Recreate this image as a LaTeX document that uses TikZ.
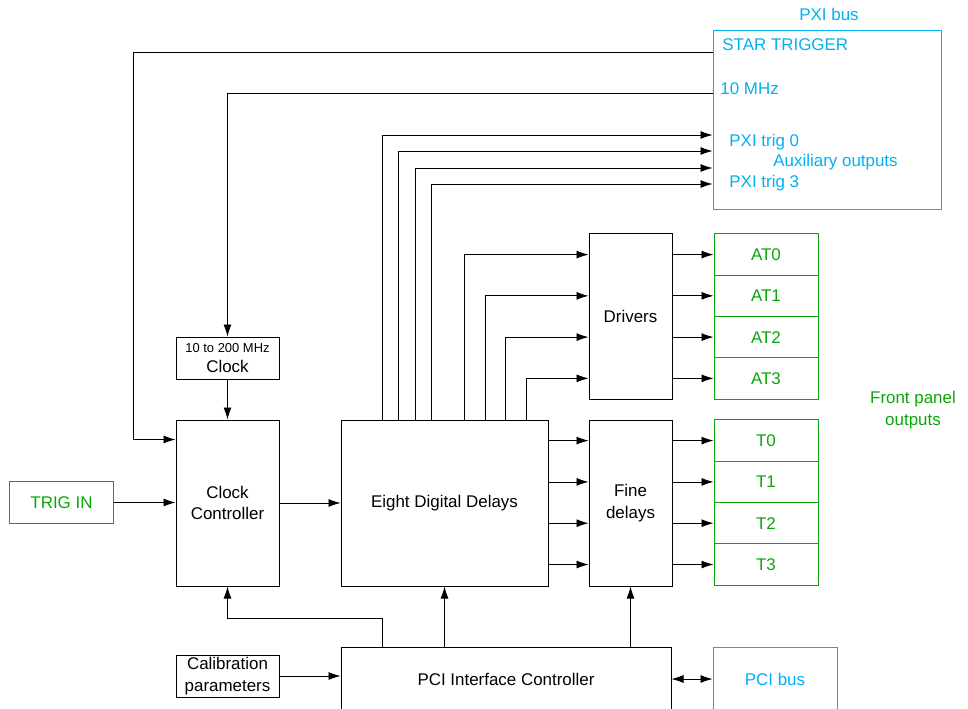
\documentclass[tikz,border=0pt]{standalone}
\usepackage{fontspec}
\setmainfont{Liberation Sans}
\usepackage{color}
\definecolor{myblue}{RGB}{0,176,240}
\definecolor{mygreen}{RGB}{10,165,10}
\usepackage{tikz}
\usetikzlibrary{calc,arrows,arrows.meta,positioning}
\tikzstyle{block}=[draw,line width=1bp,inner sep=0pt,align=center,font=\fontsize{17}{21.5}\selectfont]
\tikzstyle{outbox}=[block,draw=mygreen,text=mygreen,minimum width=104bp,minimum height=41.3bp]
\tikzstyle{busbox}=[block,draw=myblue,text=myblue]
\tikzstyle{buslabel}=[inner sep=0pt,anchor=base west,text=myblue,font=\fontsize{17}{20}\selectfont]

\begin{document}
\begin{tikzpicture}[x=1bp,y=-1bp,line width=0.8bp,>={Latex[length=12bp,width=8bp]}]
\useasboundingbox (0,0) rectangle (968,709);
\clip (0,0) rectangle (968,709);
% PXI bus
\draw (827,120) node [busbox, minimum width=228bp, minimum height=178bp] (pxi) {};
\draw (829,21) node [buslabel, anchor=base] (pxilabel) {PXI bus};
\draw (722,51) node [buslabel] (star) {STAR TRIGGER};
\draw (720,95) node [buslabel] (mhz) {10 MHz};
\draw (729,147) node [buslabel] (trigA) {PXI trig 0};
\draw (773,167) node [buslabel] (aux) {Auxiliary outputs};
\draw (729,188) node [buslabel] (trigB) {PXI trig 3};
\coordinate (starin) at (713,52);
\coordinate (mhzin) at (713,93);
% blocks
\draw (227.5,358) node [block, minimum width=103bp, minimum height=42bp] (clk) {{\fontsize{13}{15}\selectfont 10 to 200 MHz}\\[-1.5bp]Clock};
\draw (227.5,503) node [block, minimum width=103bp, minimum height=166bp] (ctrl) {Clock\\Controller};
\draw (444.5,503) node [block, minimum width=207bp, minimum height=166bp] (delays) {Eight Digital Delays};
\draw (630.5,316.5) node [block, minimum width=83bp, minimum height=165bp] (drv) {Drivers};
\draw (630.5,503) node [block, minimum width=83bp, minimum height=166bp] (fine) {Fine\\delays};
\draw (61.5,502.5) node [outbox, minimum width=103bp] (trigin) {TRIG IN};
\draw (227.5,676) node [block, minimum width=103bp, minimum height=42bp] (calib) {Calibration\\parameters};
\draw (506,679) node [block, minimum width=330bp, minimum height=64bp] (pcictl) {PCI Interface Controller};
\draw (775,679) node [busbox, minimum width=124bp, minimum height=64bp] (pcibus) {PCI bus};
\draw (913,410) node [block, draw=none, text=mygreen] (front) {Front panel\\outputs};
% outputs
\foreach \i in {0,...,3} {
  \draw (766,254.6+41.25*\i) node [outbox] (at\i) {AT\i};
  \draw (766,440.6+41.3*\i) node [outbox] (t\i) {T\i};
}
% connectors
\draw[->] (starin) -| ($(ctrl.north west)+(-42,20)$) -- ($(ctrl.north west)+(0,20)$);
\draw[->] (mhzin) -| (clk.north);
\draw[->] (clk) -- (ctrl);
\draw[->] (trigin.east) -- (trigin -| ctrl.west);
\draw[->] (ctrl) -- (delays);
\draw[->] (calib) -- (calib -| pcictl.west);
\draw[<->] (pcictl) -- (pcibus);
\foreach \dx/\y in {42/135,58/151,75/168,91/184}
  \draw[->] ($(delays.north west)+(\dx,0)$) |- (pxi.west |- 0,\y);
\foreach \dx/\i in {124/0,145/1,165/2,186/3} {
  \draw[->] ($(delays.north west)+(\dx,0)$) |- (drv.west |- at\i);
  \draw[->] (drv.east |- at\i) -- (at\i.west);
  \draw[->] (delays.east |- t\i) -- (fine.west |- t\i);
  \draw[->] (fine.east |- t\i) -- (t\i.west);
}
\draw[->] ($(pcictl.north west)+(42,0)$) |- ($(ctrl.south)+(0,32)$) -- (ctrl.south);
\draw[->] (delays.south |- pcictl.north) -- (delays.south);
\draw[->] (fine.south |- pcictl.north) -- (fine.south);
\end{tikzpicture}
\end{document}
